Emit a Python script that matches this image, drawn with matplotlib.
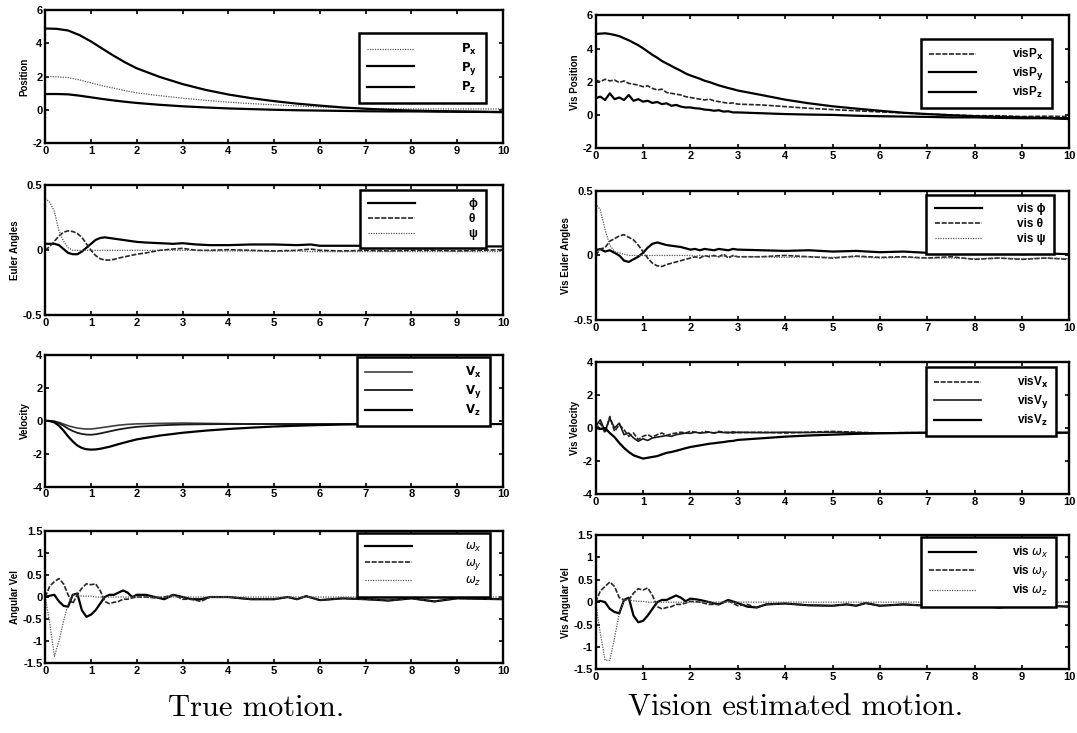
import matplotlib
matplotlib.use("Agg")
import matplotlib.pyplot as plt

plt.rcParams['font.family'] = ['Liberation Sans', 'DejaVu Sans']
plt.rcParams['axes.unicode_minus'] = False

# ---- time grids (seconds) ----
T_POS = [0, 0.25, 0.5, 0.75, 1, 1.25, 1.5, 1.75, 2, 2.5, 3, 3.5, 4, 4.5, 5,
         5.5, 6, 6.5, 7, 7.5, 8, 8.5, 9, 9.5, 10]
T_EUL = [0, 0.1, 0.2, 0.3, 0.4, 0.5, 0.6, 0.7, 0.8, 0.9, 1.0, 1.1, 1.2, 1.3,
         1.4, 1.5, 1.6, 1.8, 2.0, 2.2, 2.5, 2.8, 3.0, 3.3, 3.6, 4.0, 4.5, 5.0,
         5.5, 5.8, 6.0, 6.5, 7.0, 7.5, 8.0, 8.5, 9.0, 9.5, 10.0]
T_VEL = [0, 0.1, 0.2, 0.3, 0.4, 0.5, 0.6, 0.7, 0.8, 0.9, 1.0, 1.1, 1.2, 1.4,
         1.6, 1.8, 2.0, 2.5, 3.0, 3.5, 4.0, 4.5, 5.0, 5.5, 6.0, 6.5, 7.0, 8.0,
         9.0, 10.0]
T_ANG = [0, 0.1, 0.2, 0.3, 0.4, 0.5, 0.6, 0.7, 0.8, 0.9, 1.0, 1.1, 1.2, 1.3,
         1.4, 1.5, 1.6, 1.7, 1.8, 1.9, 2.0, 2.2, 2.4, 2.6, 2.8, 3.0, 3.2, 3.4,
         3.6, 4.0, 4.5, 5.0, 5.3, 5.5, 5.7, 6.0, 6.5, 7.0, 7.5, 8.0, 8.5, 9.0,
         9.5, 10.0]
T_VIS = [0, 0.1, 0.2, 0.3, 0.4, 0.5, 0.6, 0.7, 0.8, 0.9, 1.0, 1.1, 1.2, 1.3,
         1.4, 1.5, 1.6, 1.7, 1.8, 1.9, 2.0, 2.1, 2.2, 2.3, 2.4, 2.5, 2.6, 2.7,
         2.8, 2.9, 3.0, 3.5, 4.0, 4.5, 5.0, 5.5, 6.0, 6.5, 7.0, 7.5, 8.0, 8.5,
         9.0, 9.5, 10.0]

# ---- true motion ----
px = [2.0, 1.99, 1.94, 1.8, 1.62, 1.45, 1.3, 1.15, 1.02, 0.85, 0.7, 0.57, 0.46,
      0.37, 0.3, 0.23, 0.17, 0.12, 0.08, 0.06, 0.05, 0.05, 0.05, 0.05, 0.05]
py = [4.9, 4.88, 4.78, 4.5, 4.12, 3.68, 3.25, 2.85, 2.5, 1.98, 1.55, 1.2, 0.92,
      0.7, 0.52, 0.37, 0.25, 0.14, 0.06, 0.0, -0.05, -0.08, -0.1, -0.12, -0.14]
pz = [0.95, 0.95, 0.93, 0.85, 0.75, 0.65, 0.56, 0.48, 0.41, 0.3, 0.21, 0.14, 0.08,
      0.04, 0.0, -0.03, -0.05, -0.07, -0.09, -0.1, -0.1, -0.11, -0.12, -0.13, -0.14]

phi = [0.05, 0.05, 0.05, 0.04, 0.01, -0.02, -0.03, -0.03, -0.01, 0.02,
       0.05, 0.08, 0.095, 0.10, 0.095, 0.09, 0.085, 0.075, 0.065, 0.06,
       0.055, 0.05, 0.055, 0.045, 0.04, 0.04, 0.045, 0.045, 0.04, 0.045,
       0.035, 0.035, 0.035, 0.03, 0.03, 0.03, 0.03, 0.03, 0.03]
theta = [0.0, 0.03, 0.07, 0.11, 0.14, 0.15, 0.145, 0.13, 0.1, 0.05,
         0.0, -0.04, -0.065, -0.075, -0.075, -0.07, -0.06, -0.045, -0.03, -0.02,
         0.0, 0.01, 0.015, 0.0, 0.0, 0.005, 0.0, -0.005, 0.0, 0.01,
         0.0, -0.005, 0.0, -0.005, 0.0, 0.0, -0.005, 0.0, 0.005]
psi = [0.4, 0.37, 0.3, 0.15, 0.07, 0.02, 0.0, 0.0, 0.0, 0.0,
       0.0, 0.0, 0.0, 0.0, 0.0, 0.0, 0.0, 0.0, 0.0, 0.0,
       0.0, 0.0, 0.0, 0.0, -0.005, -0.005, -0.005, -0.01, -0.005, -0.01,
       -0.01, -0.01, -0.01, -0.01, -0.01, -0.01, -0.01, -0.01, -0.01]

vx = [0, 0.0, -0.03, -0.1, -0.2, -0.3, -0.38, -0.44, -0.48, -0.5, -0.5, -0.47,
      -0.43, -0.35, -0.27, -0.22, -0.19, -0.16, -0.14, -0.16, -0.18, -0.19, -0.2,
      -0.2, -0.2, -0.2, -0.2, -0.2, -0.2, -0.2]
vy = [0, -0.01, -0.05, -0.15, -0.3, -0.48, -0.62, -0.73, -0.8, -0.84, -0.85,
      -0.82, -0.77, -0.65, -0.53, -0.44, -0.37, -0.28, -0.23, -0.21, -0.2, -0.2,
      -0.2, -0.2, -0.2, -0.2, -0.2, -0.2, -0.2, -0.2]
vz = [0, -0.02, -0.1, -0.3, -0.6, -0.95, -1.25, -1.5, -1.65, -1.73, -1.75,
      -1.74, -1.7, -1.58, -1.42, -1.27, -1.13, -0.9, -0.73, -0.6, -0.5, -0.42,
      -0.35, -0.3, -0.26, -0.23, -0.21, -0.2, -0.2, -0.2]

wx = [0.0, 0.03, 0.05, -0.1, -0.2, -0.22, 0.05, 0.08, -0.3, -0.45,
      -0.4, -0.3, -0.15, 0.0, 0.05, 0.05, 0.1, 0.15, 0.1, 0.0,
      0.05, 0.05, 0.0, -0.05, 0.05, 0.0, -0.05, -0.05, 0.0, 0.0,
      -0.05, -0.05, 0.0, -0.05, 0.02, -0.07, -0.03, -0.05, -0.08, -0.03,
      -0.1, -0.03, -0.04, -0.05]
wy = [0.0, 0.25, 0.35, 0.42, 0.3, 0.05, -0.15, 0.05, 0.2, 0.3,
      0.28, 0.3, 0.15, -0.1, -0.15, -0.12, -0.1, -0.05, -0.05, -0.02,
      0.0, 0.0, -0.02, 0.0, 0.05, -0.05, -0.05, -0.1, 0.0, 0.0,
      -0.05, -0.05, 0.0, -0.05, 0.02, -0.07, -0.03, -0.05, -0.08, -0.03,
      -0.1, -0.03, -0.04, -0.05]
wz = [0.0, -0.6, -1.35, -1.0, -0.55, -0.15, 0.05, 0.05, 0.02, 0.02,
      0.02, 0.0, 0.0, 0.0, 0.0, 0.0, 0.0, 0.0, 0.0, 0.0,
      0.0, 0.0, 0.0, 0.0, 0.0, 0.0, 0.0, 0.0, 0.0, 0.0,
      0.0, 0.0, 0.0, 0.0, 0.0, 0.0, 0.0, 0.0, 0.0, 0.0,
      0.0, 0.0, 0.0, 0.0]

# ---- vision estimated motion ----
vis_px = [2.1, 2.0, 2.15, 2.05, 2.1, 1.95, 2.05, 1.9, 1.85, 1.8, 1.7, 1.75, 1.6,
          1.5, 1.55, 1.35, 1.3, 1.25, 1.2, 1.1, 1.05, 1.0, 0.95, 0.9, 0.95, 0.85,
          0.8, 0.75, 0.7, 0.72, 0.65,
          0.6, 0.5, 0.4, 0.32, 0.25, 0.18, 0.12, 0.05, 0.0, -0.05, -0.05, -0.1,
          -0.08, -0.1]
vis_py = [4.88, 4.9, 4.92, 4.88, 4.82, 4.75, 4.62, 4.5, 4.35, 4.2, 4.02, 3.82,
          3.62, 3.45, 3.25, 3.1, 2.95, 2.8, 2.66, 2.5, 2.38, 2.28, 2.18, 2.06,
          1.98, 1.88, 1.78, 1.7, 1.62, 1.55, 1.47,
          1.2, 0.92, 0.7, 0.52, 0.38, 0.25, 0.13, 0.05, -0.02, -0.08, -0.12,
          -0.15, -0.18, -0.2]
vis_pz = [1.0, 1.1, 0.9, 1.3, 0.95, 1.05, 0.9, 1.2, 0.85, 0.95, 0.8, 0.85, 0.72,
          0.78, 0.65, 0.7, 0.55, 0.6, 0.5, 0.45, 0.45, 0.4, 0.38, 0.32, 0.3,
          0.25, 0.28, 0.2, 0.22, 0.15, 0.15,
          0.1, 0.05, 0.02, 0.0, -0.05, -0.08, -0.1, -0.12, -0.15, -0.15, -0.18,
          -0.2, -0.2, -0.25]

vis_phi = [0.04, 0.05, 0.03, 0.04, 0.02, 0.0, -0.04, -0.05, -0.03, -0.01, 0.02,
           0.06, 0.09, 0.1, 0.09, 0.08, 0.075, 0.07, 0.065, 0.055, 0.045, 0.05,
           0.04, 0.05, 0.045, 0.04, 0.05, 0.045, 0.04, 0.05, 0.045,
           0.04, 0.035, 0.04, 0.03, 0.035, 0.025, 0.03, 0.02, 0.025, 0.02, 0.02,
           0.01, 0.015, 0.01]
vis_theta = [0.0, 0.05, 0.06, 0.11, 0.13, 0.15, 0.16, 0.14, 0.12, 0.08, 0.03,
             -0.02, -0.06, -0.08, -0.085, -0.07, -0.06, -0.05, -0.04, -0.03,
             -0.02, -0.01, -0.02, 0.0, -0.01, 0.0, -0.01, 0.01, -0.02, 0.0, -0.01,
             -0.01, 0.0, -0.01, -0.02, -0.005, -0.015, -0.01, -0.02, -0.01, -0.03,
             -0.02, -0.03, -0.02, -0.03]
vis_psi = [0.4, 0.35, 0.2, 0.08, 0.03, 0.02, 0.01, 0.0, 0.0, 0.0, 0.0, 0.0, 0.0,
           0.0, 0.0, 0.0, 0.0, 0.0, 0.0, 0.0, 0.0, -0.005, 0.0, -0.005, 0.0,
           -0.005, -0.01, -0.005, -0.01, -0.005, -0.01,
           -0.01, -0.015, -0.01, -0.015, -0.01, -0.02, -0.015, -0.02, -0.02,
           -0.025, -0.02, -0.025, -0.02, -0.025]

vis_vx = [-0.1, 0.3, -0.3, 0.7, -0.2, 0.2, -0.1, -0.5, -0.3, -0.7, -0.5, -0.4,
          -0.55, -0.4, -0.3, -0.45, -0.35, -0.3, -0.25, -0.3, -0.2, -0.25, -0.3,
          -0.2, -0.25, -0.3, -0.2, -0.25, -0.3, -0.22, -0.28,
          -0.25, -0.3, -0.25, -0.2, -0.25, -0.3, -0.28, -0.28, -0.28, -0.28,
          -0.28, -0.28, -0.28, -0.28]
vis_vy = [0.1, 0.5, -0.2, 0.6, 0.0, 0.3, -0.4, -0.3, -0.6, -0.8, -0.65, -0.75,
          -0.6, -0.55, -0.5, -0.45, -0.5, -0.4, -0.35, -0.3, -0.32, -0.25, -0.3,
          -0.28, -0.25, -0.3, -0.25, -0.27, -0.25, -0.3, -0.25,
          -0.28, -0.25, -0.27, -0.25, -0.28, -0.3, -0.28, -0.28, -0.28, -0.28,
          -0.28, -0.28, -0.28, -0.28]
vis_vz = [0.0, -0.05, 0.0, -0.3, -0.55, -0.9, -1.2, -1.45, -1.65, -1.75, -1.85,
          -1.8, -1.75, -1.7, -1.6, -1.5, -1.45, -1.38, -1.3, -1.22, -1.15, -1.1,
          -1.05, -1.0, -0.95, -0.92, -0.88, -0.85, -0.8, -0.78, -0.72,
          -0.62, -0.52, -0.45, -0.4, -0.35, -0.32, -0.3, -0.28, -0.28, -0.28,
          -0.28, -0.28, -0.28, -0.28]

vis_wx = [0.0, 0.03, 0.0, -0.15, -0.22, -0.25, 0.05, 0.1, -0.3, -0.45,
          -0.42, -0.3, -0.15, 0.0, 0.05, 0.05, 0.1, 0.15, 0.1, 0.02,
          0.08, 0.05, 0.0, -0.05, 0.05, -0.02, -0.1, -0.12, -0.05, -0.03,
          -0.07, -0.08, -0.05, -0.08, -0.02, -0.08, -0.05, -0.08, -0.1, -0.06,
          -0.12, -0.07, -0.08, -0.1]
vis_wy = [0.0, 0.25, 0.35, 0.45, 0.35, 0.1, 0.05, 0.05, 0.2, 0.3,
          0.27, 0.32, 0.15, -0.1, -0.15, -0.12, -0.1, -0.05, -0.05, -0.02,
          0.02, 0.0, -0.05, -0.05, 0.03, -0.08, -0.05, -0.12, -0.05, -0.03,
          -0.07, -0.08, -0.05, -0.08, -0.02, -0.08, -0.05, -0.08, -0.1, -0.06,
          -0.12, -0.07, -0.08, -0.1]
vis_wz = [0.0, -0.7, -1.3, -1.3, -0.8, -0.25, 0.05, 0.05, 0.03, 0.02,
          0.02, 0.0, 0.0, 0.0, 0.0, 0.0, 0.0, 0.0, 0.0, 0.0,
          0.0, 0.0, 0.0, 0.0, 0.0, 0.0, 0.0, 0.0, 0.0, 0.0,
          0.0, 0.0, 0.0, 0.0, 0.0, 0.0, 0.0, 0.0, 0.0, 0.0,
          0.0, 0.0, 0.0, 0.0]

# ---- tick labels ----
X_TICKS = [0, 1, 2, 3, 4, 5, 6, 7, 8, 9, 10]
Y_POS = [-2, 0, 2, 4, 6]
Y_POS_LBL = ['-2', '0', '2', '4', '6']
Y_EUL = [-0.5, 0, 0.5]
Y_EUL_LBL = ['-0.5', '0', '0.5']
Y_VEL = [-4, -2, 0, 2, 4]
Y_VEL_LBL = ['-4', '-2', '0', '2', '4']
Y_ANG = [-1.5, -1, -0.5, 0, 0.5, 1, 1.5]
Y_ANG_LBL = ['-1.5', '-1', '-0.5', '0', '0.5', '1', '1.5']

SOLID = dict(color='black', lw=1.6, ls='-')
DASH = dict(color='0.15', lw=1.2, ls=(0, (3, 1)))
DOT = dict(color='0.35', lw=0.9, ls=(0, (1, 1)))


def setup(ax, yticks, ylabels, ylabel):
    ax.set_xlim(0, 10)
    ax.set_ylim(yticks[0], yticks[-1])
    ax.set_xticks(X_TICKS)
    ax.set_xticklabels([str(v) for v in X_TICKS])
    ax.set_yticks(yticks)
    ax.set_yticklabels(ylabels)
    ax.tick_params(direction='in', top=True, right=True, length=3, width=1.2,
                   labelsize=8, pad=2)
    for lbl in ax.get_xticklabels() + ax.get_yticklabels():
        lbl.set_fontweight('bold')
    for sp in ax.spines.values():
        sp.set_linewidth(1.7)
    ax.set_ylabel(ylabel, fontsize=7, fontweight='bold', labelpad=2)


def legend(ax, anchor, hl=3.6, tp=3.5):
    leg = ax.legend(loc='upper right', bbox_to_anchor=anchor, fancybox=False,
                    edgecolor='black', framealpha=1, handlelength=hl,
                    handletextpad=tp, labelspacing=0.25, borderpad=0.7,
                    prop=dict(size=8.5, weight='bold'))
    leg.get_frame().set_linewidth(1.8)


fig = plt.figure(figsize=(10.77, 7.33), dpi=100)

LEFT = [0.042, 0.425]
RIGHT = [0.553, 0.440]
ROWS_L = [(0.805, 0.181), (0.570, 0.177), (0.336, 0.180), (0.0955, 0.180)]
ROWS_R = [(0.798, 0.181), (0.563, 0.177), (0.326, 0.180), (0.087, 0.183)]

# left column: true motion
a1 = fig.add_axes([LEFT[0], ROWS_L[0][0], LEFT[1], ROWS_L[0][1]])
a1.plot(T_POS, px, label='$\\mathbf{P_x}$', **DOT)
a1.plot(T_POS, py, label='$\\mathbf{P_y}$', **SOLID)
a1.plot(T_POS, pz, label='$\\mathbf{P_z}$', **SOLID)
setup(a1, Y_POS, Y_POS_LBL, 'Position')
legend(a1, (0.975, 0.87), hl=4.0, tp=4.0)

a2 = fig.add_axes([LEFT[0], ROWS_L[1][0], LEFT[1], ROWS_L[1][1]])
a2.plot(T_EUL, phi, label='ϕ', **SOLID)
a2.plot(T_EUL, theta, label='θ', **DASH)
a2.plot(T_EUL, psi, label='ψ', **DOT)
setup(a2, Y_EUL, Y_EUL_LBL, 'Euler Angles')
legend(a2, (0.975, 1.01), hl=4.0, tp=4.5)

a3 = fig.add_axes([LEFT[0], ROWS_L[2][0], LEFT[1], ROWS_L[2][1]])
a3.plot(T_VEL, vx, label='$\\mathbf{V_x}$', color='0.25', lw=1.2)
a3.plot(T_VEL, vy, label='$\\mathbf{V_y}$', color='0.1', lw=1.3)
a3.plot(T_VEL, vz, label='$\\mathbf{V_z}$', **SOLID)
setup(a3, Y_VEL, Y_VEL_LBL, 'Velocity')
legend(a3, (0.985, 1.03), hl=4.0, tp=4.5)

a4 = fig.add_axes([LEFT[0], ROWS_L[3][0], LEFT[1], ROWS_L[3][1]])
a4.plot(T_ANG, wx, label='$\\omega_x$', **SOLID)
a4.plot(T_ANG, wy, label='$\\omega_y$', **DASH)
a4.plot(T_ANG, wz, label='$\\omega_z$', **DOT)
setup(a4, Y_ANG, Y_ANG_LBL, 'Angular Vel')
legend(a4, (0.985, 1.03), hl=4.0, tp=4.5)

# right column: vision estimate
b1 = fig.add_axes([RIGHT[0], ROWS_R[0][0], RIGHT[1], ROWS_R[0][1]])
b1.plot(T_VIS, vis_px, label='visP$_\\mathbf{x}$', **DASH)
b1.plot(T_VIS, vis_py, label='visP$_\\mathbf{y}$', **SOLID)
b1.plot(T_VIS, vis_pz, label='visP$_\\mathbf{z}$', **SOLID)
setup(b1, Y_POS, Y_POS_LBL, 'Vis Position')
legend(b1, (0.975, 0.87), hl=4.0, tp=3.0)

b2 = fig.add_axes([RIGHT[0], ROWS_R[1][0], RIGHT[1], ROWS_R[1][1]])
b2.plot(T_VIS, vis_phi, label='vis ϕ', **SOLID)
b2.plot(T_VIS, vis_theta, label='vis θ', **DASH)
b2.plot(T_VIS, vis_psi, label='vis ψ', **DOT)
setup(b2, Y_EUL, Y_EUL_LBL, 'Vis Euler Angles')
legend(b2, (0.98, 1.01), hl=4.0, tp=3.0)

b3 = fig.add_axes([RIGHT[0], ROWS_R[2][0], RIGHT[1], ROWS_R[2][1]])
b3.plot(T_VIS, vis_vx, label='visV$_\\mathbf{x}$', **DASH)
b3.plot(T_VIS, vis_vy, label='visV$_\\mathbf{y}$', color='0.1', lw=1.2)
b3.plot(T_VIS, vis_vz, label='visV$_\\mathbf{z}$', **SOLID)
setup(b3, Y_VEL, Y_VEL_LBL, 'Vis Velocity')
legend(b3, (0.985, 1.01), hl=4.0, tp=3.0)

b4 = fig.add_axes([RIGHT[0], ROWS_R[3][0], RIGHT[1], ROWS_R[3][1]])
b4.plot(T_ANG, vis_wx, label='vis $\\omega_x$', **SOLID)
b4.plot(T_ANG, vis_wy, label='vis $\\omega_y$', **DASH)
b4.plot(T_ANG, vis_wz, label='vis $\\omega_z$', **DOT)
setup(b4, Y_ANG, Y_ANG_LBL, 'Vis Angular Vel')
legend(b4, (0.985, 1.03), hl=4.0, tp=3.0)

# captions
fig.text(0.238, 0.034, 'True motion.', ha='center', va='center',
         fontsize=22, family=['cmr10', 'DejaVu Serif'])
fig.text(0.739, 0.034, 'Vision estimated motion.', ha='center', va='center',
         fontsize=22, family=['cmr10', 'DejaVu Serif'])

fig.savefig('out.png', dpi=100)
